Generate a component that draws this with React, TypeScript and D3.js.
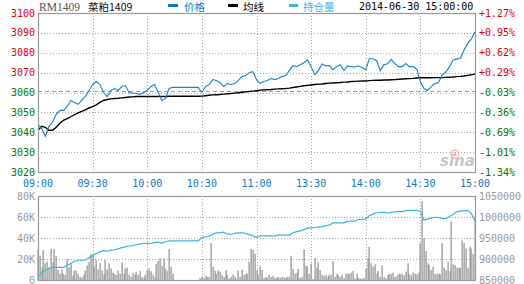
import React from 'react';
import * as d3 from 'd3';

const W = 524;
const H = 284;
const STEP = 2; // minutes between price / average / open-interest samples

const TIME_LABELS = ['09:00', '09:30', '10:00', '10:30', '11:00', '13:30', '14:00', '14:30', '15:00'];
const PRICE_TICKS = [3100, 3090, 3080, 3070, 3060, 3050, 3040, 3030, 3020];
const PRE_CLOSE = 3061;
const VOL_TICKS = [80, 60, 40, 20, 0];
const OI_TICKS = [1050000, 1000000, 950000, 900000, 850000];

// price every 2 minutes (index 0..240 minutes)
const price = [
  3044, 3042, 3038, 3043, 3045, 3049, 3051, 3051, 3053, 3056,
  3055, 3054, 3056, 3058, 3061, 3064, 3065.5, 3064, 3060, 3058,
  3061, 3062, 3061, 3063, 3063.5, 3060, 3059.6, 3059.6, 3059, 3060,
  3061, 3063, 3064, 3060, 3056, 3057, 3062, 3062.6, 3062.6, 3062.6,
  3062.6, 3062.6, 3062.6, 3062.6, 3062.6, 3060, 3063, 3064, 3066.5, 3066,
  3065, 3063, 3064.5, 3064, 3064.5, 3066, 3068, 3068.5, 3070, 3070.5,
  3066.5, 3064.6, 3065.5, 3066, 3067, 3066.5, 3067, 3068, 3068.5, 3071,
  3073.5, 3073, 3074, 3075, 3076.4, 3073, 3069, 3071, 3074.3, 3073.5,
  3073.5, 3071.5, 3073, 3074, 3071, 3073.4, 3073, 3072.8, 3073.4, 3072.5,
  3071.5, 3077, 3077, 3076, 3071, 3074, 3074.5, 3076.7, 3074.5, 3073,
  3073, 3074.6, 3073, 3073, 3071.8, 3065.4, 3062, 3061, 3063, 3064.5,
  3065, 3069, 3070.3, 3073, 3076.4, 3076.8, 3077.2, 3081.4, 3084.7, 3087,
  3090.6,
];

const avgPrice = [
  3041, 3043, 3042.5, 3041, 3041, 3042.5, 3044.5, 3046, 3046.8, 3047.8,
  3048.8, 3049.8, 3050.5, 3051.3, 3052.2, 3052.9, 3053.8, 3055, 3056, 3056.5,
  3056.8, 3057, 3057.1, 3057.3, 3057.5, 3057.7, 3057.8, 3058, 3058, 3058,
  3058, 3058, 3058, 3058, 3058, 3058, 3058.1, 3058.1, 3058.1, 3058.1,
  3058.1, 3058.1, 3058.1, 3058.1, 3058.1, 3058.2, 3058.4, 3058.6, 3058.8, 3058.9,
  3059, 3059.2, 3059.4, 3059.5, 3059.7, 3059.9, 3060.1, 3060.3, 3060.5, 3060.7,
  3060.9, 3061.1, 3061.3, 3061.4, 3061.5, 3061.7, 3061.8, 3061.9, 3062, 3062.2,
  3062.5, 3062.8, 3063.1, 3063.4, 3063.6, 3063.8, 3064, 3064.2, 3064.3, 3064.5,
  3064.7, 3064.8, 3064.9, 3065, 3065.2, 3065.3, 3065.5, 3065.6, 3065.7, 3065.8,
  3065.8, 3066, 3066.1, 3066.2, 3066.2, 3066.3, 3066.3, 3066.4, 3066.5, 3066.7,
  3066.8, 3066.9, 3067, 3067.1, 3067.3, 3067.4, 3067.4, 3067.4, 3067.4, 3067.5,
  3067.5, 3067.5, 3067.6, 3067.7, 3067.8, 3068, 3068.1, 3068.3, 3068.6, 3068.9,
  3069.3,
];

// open interest (thousands) every 2 minutes
const openInterest = [
  858, 866, 874, 878, 880, 880, 880, 880, 884, 890,
  894, 897, 897, 897, 903, 908, 913, 917, 920, 919,
  921, 922, 924, 927, 929, 931, 932, 934, 936, 937,
  937, 937, 939, 940, 938, 941, 943, 943, 943, 943,
  943, 943, 943, 943, 943, 951, 953, 954, 959, 962,
  963, 964, 959, 959, 961, 962, 962, 961, 958, 955,
  951, 955, 955, 955, 955, 955, 957, 957, 957, 957,
  962, 965, 967, 970, 973, 974, 975, 976, 977, 979,
  981, 986, 986, 986, 986, 990, 990, 990, 994, 994,
  996, 1003, 1007, 1010, 1011, 1011, 1010, 1011, 1012, 1013,
  1013, 1015, 1016, 1016, 1016, 1013, 993, 995, 998, 999,
  999, 996, 996, 1001, 1006, 1013, 1014, 1015, 1016, 1008,
  990,
];

// volume (thousands) per minute
const volume = [
  28.5, 23, 12, 28.5, 16, 17.5, 12, 29.5, 17, 29.5,
  23, 9.5, 6, 10, 6, 5, 20, 12, 16, 4,
  9, 9, 6, 3, 2.5, 5, 9, 14, 17.5, 25,
  23, 13, 19, 10, 16, 9, 6, 19, 10, 16,
  11, 7, 6, 5, 9, 6, 16.8, 6, 11, 11.7,
  5, 3, 7, 5, 8, 5, 8.5, 3, 2, 5,
  9.5, 11, 8.5, 5, 3, 15, 18, 20.6, 13.5, 20.6,
  11, 9, 29.5, 12.7, 6, 0, 0, 0, 0, 0,
  0, 0, 0, 0, 0, 0, 0, 0, 0, 2,
  3.5, 2, 4, 3, 3, 35, 12.7, 9, 6, 9,
  8, 5, 3, 9.5, 5, 1.5, 3, 5, 3, 0.6,
  9, 3, 10, 5, 6, 6, 17.5, 29.5, 28.5, 25,
  9.5, 5, 13.6, 9.5, 2, 3, 2, 5, 3, 4,
  2, 2, 3, 2, 3, 2.5, 2, 3, 3, 23,
  10.5, 6, 7, 10.5, 2, 3, 29, 13.6, 12.7, 6,
  15.5, 1, 21, 11.7, 16.8, 9.5, 5, 4, 5, 3,
  5, 5, 18, 3, 6, 4.5, 3, 5, 2, 6,
  6, 6, 7, 8.5, 1.5, 6, 2, 1.5, 1, 2,
  10.5, 21, 31.7, 15.9, 12.7, 14.9, 5.5, 8.5, 3, 14,
  3, 1.5, 4.5, 5.5, 5.5, 7, 3, 4.5, 6, 5.5,
  6, 4.5, 8, 15.9, 5.5, 4.5, 7, 6, 5.5, 7,
  35, 75, 39.7, 27.6, 15.9, 14.3, 9.5, 12.7, 5.5, 6,
  6, 5.5, 35, 11.7, 9.5, 17.5, 8.5, 56, 15, 14.3,
  11.7, 11.7, 11.7, 38, 35, 30, 11.7, 31.7, 30, 25,
  61,
];

const L = 38;
const R = 475;
const MAIN_T = 13;
const MAIN_B = 172;
const VOL_T = 196;
const VOL_B = 280;

const MONO = '"DejaVu Sans Mono", monospace';
const RED = '#e60000';
const GREEN = '#007a00';
const BLUE = '#0a78d2';
const GRID = '#a8a8a8';
const FRAME = '#999999';
const CJK = '"Noto Sans CJK SC", sans-serif';

export default function App() {
  const x = d3.scaleLinear().domain([0, 240]).range([L, R]);
  const yP = d3.scaleLinear().domain([3020, 3100]).range([MAIN_B, MAIN_T]);
  const yV = d3.scaleLinear().domain([0, 80]).range([VOL_B, VOL_T]);
  const yOI = d3.scaleLinear().domain([850000, 1050000]).range([VOL_B, VOL_T]);

  const lineP = d3.line<number>().x((_, i) => x(i * STEP)).y((d) => yP(d));
  const lineOI = d3.line<number>().x((_, i) => x(i * STEP)).y((d) => yOI(d * 1000));

  const timeTicks = TIME_LABELS.map((_, i) => i * 30);
  const crisp = (v: number) => Math.round(v) + 0.5;

  const pct = (p: number) => {
    const v = ((p - PRE_CLOSE) / PRE_CLOSE) * 100;
    return (v >= 0 ? '+' : '') + v.toFixed(2) + '%';
  };

  return (
    <svg width={W} height={H} style={{ position: 'absolute', left: 0, top: 0, background: '#fff' }}>
      <rect x={0} y={0} width={W} height={H} fill="#fff" />
      {/* header */}
      <text x={39} y={10.5} fontFamily='"Liberation Serif", serif' fontSize={11.5} fill="#555">RM1409</text>
      <text x={88} y={10.5} fontFamily={CJK} fontSize={10.5} fill="#111">菜粕1409</text>
      <rect x={168} y={4} width={10} height={3} fill={BLUE} />
      <text x={184} y={10.5} fontFamily={CJK} fontSize={10.5} fill={BLUE}>价格</text>
      <rect x={228} y={4} width={10} height={3} fill="#000" />
      <text x={243} y={10.5} fontFamily={CJK} fontSize={10.5} fill="#000">均线</text>
      <rect x={289} y={4} width={9} height={3} fill="#3cb4e6" />
      <text x={303} y={10.5} fontFamily={CJK} fontSize={10.5} fill="#3cb4e6">持仓量</text>
      <text x={359} y={9.5} fontFamily={MONO} fontSize={10} fill="#000">2014-06-30 15:00:00</text>

      {/* main gridlines */}
      {PRICE_TICKS.slice(1, -1).map((p) => (
        <line key={'hp' + p} x1={L} x2={R} y1={crisp(yP(p))} y2={crisp(yP(p))} stroke={GRID} strokeDasharray="1,2" />
      ))}
      {timeTicks.slice(1, -1).map((t) => (
        <line key={'vp' + t} x1={crisp(x(t))} x2={crisp(x(t))} y1={MAIN_T} y2={MAIN_B} stroke={GRID} strokeDasharray="1,2" />
      ))}
      {/* volume gridlines */}
      {VOL_TICKS.slice(1, -1).map((v) => (
        <line key={'hv' + v} x1={L} x2={R} y1={crisp(yV(v))} y2={crisp(yV(v))} stroke={GRID} strokeDasharray="1,2" />
      ))}
      {timeTicks.slice(1, -1).map((t) => (
        <line key={'vv' + t} x1={crisp(x(t))} x2={crisp(x(t))} y1={VOL_T} y2={VOL_B} stroke={GRID} strokeDasharray="1,2" />
      ))}

      {/* sina watermark */}
      <g opacity={0.55}>
        <text x={440} y={166} fontFamily='"DejaVu Sans", sans-serif' fontStyle="italic" fontWeight="bold" fontSize={15} fill="#999">sina</text>
        <circle cx={455} cy={154} r={4} fill="none" stroke="#e88" strokeWidth={1.5} />
        <circle cx={455} cy={154.5} r={1.5} fill="#e66" />
      </g>

      {/* pre-close dashed */}
      <line x1={L} x2={R} y1={crisp(yP(PRE_CLOSE))} y2={crisp(yP(PRE_CLOSE))} stroke="#f39200" strokeDasharray="4,3" />

      {/* lines */}
      <path d={lineP(avgPrice) || ''} fill="none" stroke="#000" strokeWidth={1.4} />
      <path d={lineP(price) || ''} fill="none" stroke="#1581d6" strokeWidth={1.1} />

      {/* volume bars */}
      {volume.map((v, i) =>
        v > 0 ? (
          <rect key={'b' + i} x={Math.round(x(i)) - 0.5} y={yV(v)} width={1.2} height={VOL_B - yV(v)} fill="#8f8f8f" />
        ) : null
      )}
      <path d={lineOI(openInterest) || ''} fill="none" stroke="#3cb4e6" strokeWidth={1.2} />

      {/* frames */}
      <rect x={L + 0.5} y={MAIN_T + 0.5} width={R - L} height={MAIN_B - MAIN_T} fill="none" stroke={FRAME} strokeWidth={1.2} />
      <rect x={L + 0.5} y={VOL_T + 0.5} width={R - L} height={VOL_B - VOL_T} fill="none" stroke={FRAME} strokeWidth={1.2} />

      {/* price labels */}
      {PRICE_TICKS.map((p) => (
        <text key={'lp' + p} x={35} y={yP(p)} textAnchor="end" dominantBaseline="central" fontFamily={MONO} fontSize={10} fill={p > PRE_CLOSE ? RED : GREEN}>
          {p}
        </text>
      ))}
      {PRICE_TICKS.map((p) => (
        <text key={'rp' + p} x={479} y={yP(p)} textAnchor="start" dominantBaseline="central" fontFamily={MONO} fontSize={10} fill={p > PRE_CLOSE ? RED : GREEN}>
          {pct(p)}
        </text>
      ))}
      {/* time labels */}
      {TIME_LABELS.map((t, i) => (
        <text key={'t' + t} x={x(timeTicks[i])} y={183.5} textAnchor="middle" dominantBaseline="central" fontFamily={MONO} fontSize={10} fill={BLUE}>
          {t}
        </text>
      ))}
      {/* volume labels */}
      {VOL_TICKS.map((v) => (
        <text key={'lv' + v} x={35} y={yV(v)} textAnchor="end" dominantBaseline="central" fontFamily={MONO} fontSize={10} fill="#999">
          {v === 0 ? '0' : v + 'K'}
        </text>
      ))}
      {OI_TICKS.map((v) => (
        <text key={'ro' + v} x={479} y={yOI(v)} textAnchor="start" dominantBaseline="central" fontFamily={MONO} fontSize={10} fill="#999">
          {v}
        </text>
      ))}
    </svg>
  );
}
